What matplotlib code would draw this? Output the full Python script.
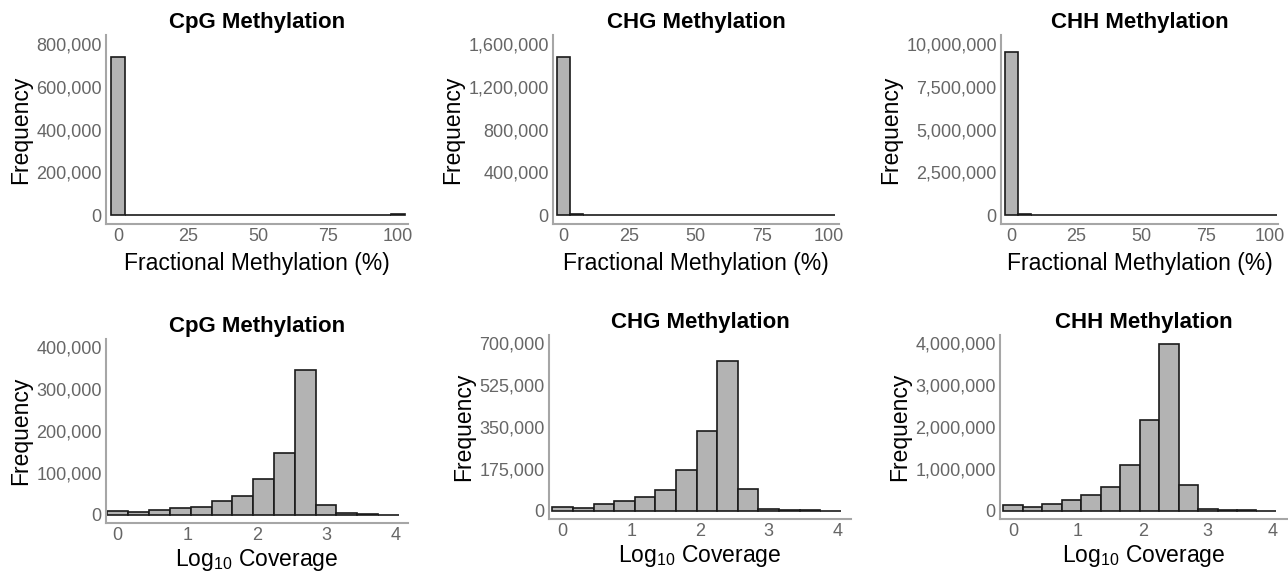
import numpy as np
import matplotlib
matplotlib.use("Agg")
import matplotlib.pyplot as plt
from matplotlib.ticker import FuncFormatter

plt.rcParams['font.family'] = ['Liberation Sans', 'DejaVu Sans']
plt.rcParams['mathtext.default'] = 'regular'

# --- data ---
contexts = ["CpG", "CHG", "CHH"]

meth_bins = list(range(0, 101, 5))  # bin centres, width 5
meth_cpg = [739600, 4000, 2500, 2000, 1500, 1200, 1000, 900, 800, 800, 700,
            700, 700, 800, 800, 900, 1000, 1200, 1500, 2000, 6000]
meth_chg = [1478000, 9000, 6000, 5000, 4000, 3500, 4000, 5000, 3000, 2500, 2000,
            2000, 2000, 2000, 2000, 2000, 2000, 2000, 2500, 3000, 8000]
meth_chh = [9516000, 60000, 40000, 35000, 30000, 35000, 40000, 30000, 30000, 25000, 30000,
            20000, 20000, 20000, 20000, 20000, 20000, 20000, 20000, 25000, 50000]

cov_bins = [0.0, 0.3, 0.6, 0.9, 1.2, 1.5, 1.8, 2.1, 2.4, 2.7, 3.0, 3.3, 3.6, 3.9]
cov_cpg = [9500, 5500, 11000, 15000, 19000, 32000, 44000, 85000, 147000, 347000,
           23000, 3000, 1000, 300]
cov_chg = [16700, 11000, 26500, 39000, 57000, 88000, 171000, 332000, 626000, 89000,
           7000, 2500, 800, 200]
cov_chh = [136000, 88000, 168000, 256000, 369000, 569000, 1098000, 2156000, 3984000, 625000,
           40000, 16000, 5000, 2000]

meth_ticks = [[0, 200000, 400000, 600000, 800000],
              [0, 400000, 800000, 1200000, 1600000],
              [0, 2500000, 5000000, 7500000, 10000000]]
cov_ticks = [[0, 100000, 200000, 300000, 400000],
             [0, 175000, 350000, 525000, 700000],
             [0, 1000000, 2000000, 3000000, 4000000]]

W, H = 1288, 572
fig = plt.figure(figsize=(W / 100, H / 100), dpi=100)

AXIS_GREY = "#a6a6a6"
TICK_GREY = "#666666"
FILL = "#b3b3b3"


def px_axes(x0, y0, x1, y1):
    # pixel box (left, top, right, bottom) -> figure fraction
    return fig.add_axes([x0 / W, 1 - y1 / H, (x1 - x0) / W, (y1 - y0) / H])


def style(ax, title, xlabel, yticks, xticks, xlim, xpad):
    for s in ["top", "right"]:
        ax.spines[s].set_visible(False)
    for s in ["left", "bottom"]:
        ax.spines[s].set_color(AXIS_GREY)
        ax.spines[s].set_linewidth(1.5)
    top = yticks[-1]
    ax.set_ylim(-0.05 * top, 1.05 * top)
    ax.set_xlim(*xlim)
    ax.set_yticks(yticks)
    ax.set_xticks(xticks)
    ax.yaxis.set_major_formatter(FuncFormatter(lambda v, p: f"{int(v):,}"))
    ax.tick_params(length=0, labelsize=13, labelcolor=TICK_GREY, pad=3)
    ax.set_title(title, fontsize=16, fontweight="bold", pad=5)
    ax.set_xlabel(xlabel, fontsize=16.5, labelpad=xpad)
    ax.set_ylabel("Frequency", fontsize=16.5, labelpad=3)


top_boxes = [(106, 35, 408, 224), (553, 35, 839, 224), (1001, 35, 1278, 224)]
bot_boxes = [(106, 339, 408, 523), (549, 335, 851, 519), (1000, 335, 1287, 519)]
meth_data = [meth_cpg, meth_chg, meth_chh]
cov_data = [cov_cpg, cov_chg, cov_chh]
top_xlims = [(-4.3, 103.6), (-3.9, 104), (-4.1, 103)]
bot_xlims = [(-0.17, 4.18), (-0.2, 4.2), (-0.2, 4.22)]

for i, ctx in enumerate(contexts):
    ax = px_axes(*top_boxes[i])
    ax.bar(meth_bins, meth_data[i], width=5, color=FILL, edgecolor="#1a1a1a",
           linewidth=1.2)
    style(ax, f"{ctx} Methylation", "Fractional Methylation (%)",
          meth_ticks[i], [0, 25, 50, 75, 100], top_xlims[i], 5)

    ax = px_axes(*bot_boxes[i])
    ax.bar(cov_bins, cov_data[i], width=0.3, color=FILL, edgecolor="#1a1a1a",
           linewidth=1.2)
    style(ax, f"{ctx} Methylation", "Log$_{10}$ Coverage",
          cov_ticks[i], [0, 1, 2, 3, 4], bot_xlims[i], 2)

fig.savefig("out.png", dpi=100)
